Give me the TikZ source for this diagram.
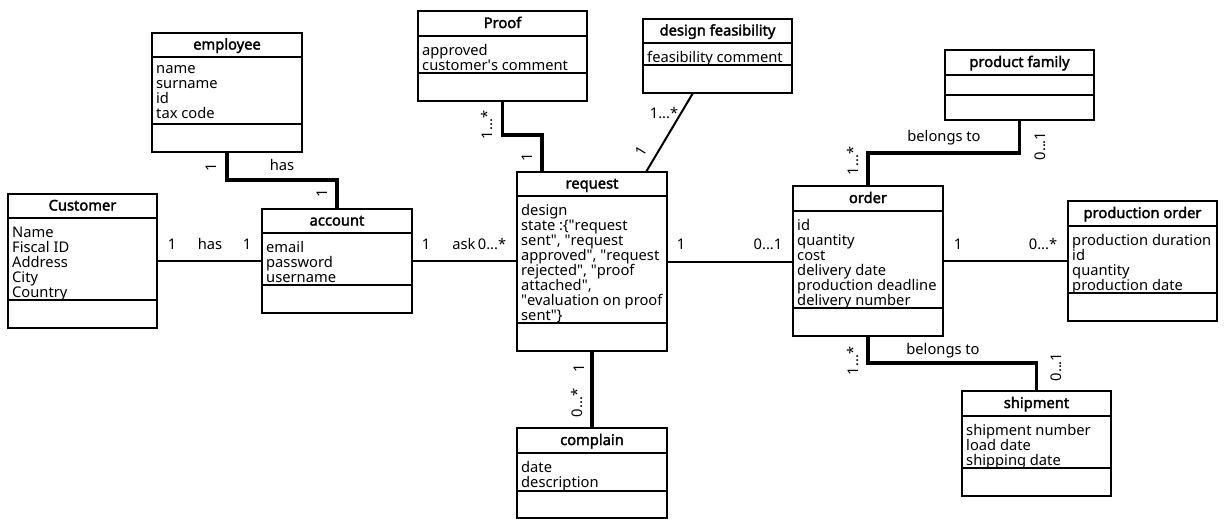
\documentclass[tikz,border=0pt]{standalone}
\usepackage{fontspec}
\setmainfont{Noto Sans}[AutoFakeBold=2.2]
\usetikzlibrary{calc}
\setlength{\lineskiplimit}{-20pt}

% one class box: name, x, y, width, head height, attribute height, method height, title, attributes
\newcommand{\umlclass}[9]{%
    \node[classbox, minimum width=#4pt, minimum height={(#5+#6+#7)*1pt}] (#1) at (#2,#3) {};
    \node[classtitle] (#1-t) at ({#2+#4/2},{#3+#5/2+4.5}) {#8};
    \draw[classsep] (#2,{#3+#5}) -- ++(#4,0);
    \draw[classsep] (#2,{#3+#5+#6}) -- ++(#4,0);
    \node[classattr] (#1-a) at ({#2+4},{#3+#5+8.5}) {#9};
}
\newcommand{\q}{\textquotedbl}

\begin{document}
\begin{tikzpicture}[x=1pt,y=-1pt,
        font=\fontsize{14.7}{15}\selectfont,
        classbox/.style={draw,line width=2.6pt,anchor=north west,inner sep=0pt,outer sep=0pt},
        classsep/.style={line width=1.4pt},
        classtitle/.style={font=\fontsize{14.7}{15}\selectfont\bfseries,anchor=base,inner sep=0pt},
        classattr/.style={anchor=north west,align=left,inner sep=0pt,execute at begin node=\strut},
        thinline/.style={line width=2pt},
        thickline/.style={line width=3.6pt},
        mult/.style={inner sep=0pt},
        vmult/.style={mult,rotate=90}]
    \useasboundingbox (0,0) rectangle (1226,528);

    % classes
    \umlclass{employee}{152}{33}{150}{24}{67}{28}{employee}{name\\surname\\id\\tax code}
    \umlclass{customer}{8}{194}{149}{24}{82}{28}{Customer}{Name\\Fiscal ID\\Address\\City\\Country}
    \umlclass{account}{262}{209}{150}{24}{52}{28}{account}{email\\password\\username}
    \umlclass{proof}{418}{11}{169}{25}{37}{28}{Proof}{approved\\customer\textquotesingle s comment}
    \umlclass{dfeas}{643}{19}{149}{24}{22}{28}{design feasibility}{feasibility comment}
    \umlclass{request}{517}{172}{150}{24}{127}{28}{request}{design\\state :\{\q request\\sent\q, \q request\\approved\q, \q request\\rejected\q, \q proof\\attached\q,\\\q evaluation on proof\\sent\q\}}
    \umlclass{complain}{517}{428}{150}{25}{38}{27}{complain}{date\\description}
    \umlclass{order}{793}{186}{150}{25}{97}{28}{order}{id\\quantity\\cost\\delivery date\\production deadline\\delivery number}
    \umlclass{pfamily}{945}{50}{149}{25}{20}{25}{product family}{}
    \umlclass{porder}{1068}{201}{149}{25}{67}{28}{production order}{production duration\\id\\quantity\\production date}
    \umlclass{shipment}{962}{391}{149}{25}{52}{28}{shipment}{shipment number\\load date\\shipping date}

    % connectors
    \coordinate (rq-top1) at ($(request.north west)+(25,0)$);
    \coordinate (rq-top2) at ($(request.north west)+(129,0)$);
    \coordinate (df-foot) at ($(dfeas.south west)+(50,0)$);

    \draw[thinline] (customer.east) -- (customer.east -| account.west);
    \draw[thinline] (account.east) -- (account.east -| request.west);
    \draw[thinline] (request.east) -- (request.east -| order.west);
    \draw[thinline] (order.east) -- (order.east -| porder.west);
    \draw[thinline] (df-foot) -- (rq-top2);
    \draw[thickline] (employee.south) -- ++(0,28) -| (account.north);
    \draw[thickline] (proof.south) -- ++(0,34) -| (rq-top1);
    \draw[thickline] (request.south) -- (complain.north);
    \draw[thickline] (order.north) -- ++(0,-33) -| (pfamily.south);
    \draw[thickline] (order.south) -- ++(0,27) -| (shipment.north);

    % multiplicities and names
    \node[mult] (ca-1) at (172,244) {1};
    \node[mult] (ca-n) at (210,244) {has};
    \node[mult] (ca-2) at (247,244) {1};
    \node[mult] (ar-1) at (426,244) {1};
    \node[mult] (ar-n) at (464,244) {ask};
    \node[mult] (ar-2) at (492,244) {0...*};
    \node[mult] (ro-1) at (681,244) {1};
    \node[mult] (ro-2) at (768,244) {0...1};
    \node[mult] (op-1) at (958,244) {1};
    \node[mult] (op-2) at (1043,244) {0...*};
    \node[vmult] (ea-1) at (211,167) {1};
    \node[mult] (ea-n) at (282,165) {has};
    \node[vmult] (ea-2) at (322,193) {1};
    \node[vmult] (pr-1) at (487,125) {1...*};
    \node[vmult] (pr-2) at (527,157) {1};
    \node[mult] (dr-1) at (664,113) {1...*};
    \node[mult,rotate=59] (dr-2) at (641,151) {1};
    \node[vmult] (rc-1) at (579,368) {1};
    \node[vmult] (rc-2) at (577,403) {0...*};
    \node[mult] (of-n) at (944,138) {belongs to};
    \node[vmult] (of-1) at (853,161) {1...*};
    \node[vmult] (of-2) at (1040,146) {0...1};
    \node[mult] (os-n) at (943,351) {belongs to};
    \node[vmult] (os-1) at (853,361) {1...*};
    \node[vmult] (os-2) at (1056,367) {0...1};
\end{tikzpicture}
\end{document}
